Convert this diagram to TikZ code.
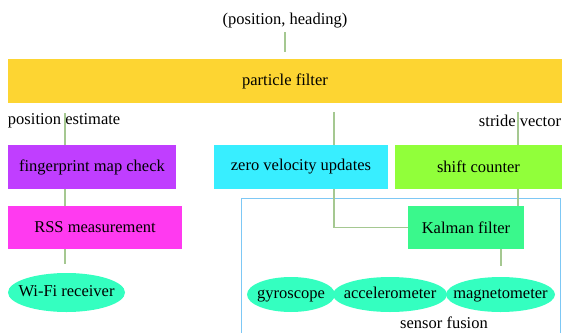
\documentclass[tikz,border=0pt]{standalone}
\usepackage{fontspec}
\setmainfont{Liberation Serif}
\usetikzlibrary{shapes.geometric}

\definecolor{pfyellow}{RGB}{253,213,50}
\definecolor{fpurple}{RGB}{192,62,255}
\definecolor{rssmagenta}{RGB}{255,58,240}
\definecolor{zvcyan}{RGB}{56,238,255}
\definecolor{sclime}{RGB}{145,255,58}
\definecolor{kfgreen}{RGB}{58,248,140}
\definecolor{sensteal}{RGB}{52,255,192}
\definecolor{linkgreen}{RGB}{165,200,145}
\definecolor{framblue}{RGB}{125,200,245}

\begin{document}
\begin{tikzpicture}[x=1pt,y=1pt,
  font=\fontsize{16.5pt}{19pt}\selectfont,
  box/.style={rectangle, inner sep=0pt, outer sep=0pt},
  lbl/.style={inner sep=0pt, outer sep=0pt},
  % tight ellipse: the outline is sized by hand, the text sits on top
  oval/.style n args={3}{ellipse, inner sep=0pt, outer sep=0pt, fill=sensteal,
    minimum width=#1, minimum height=#2,
    label={[lbl, text height=11pt, text depth=3.5pt]center:#3}},
  link/.style={draw=linkgreen, line width=1.1pt}]

\useasboundingbox (0,0) rectangle (562,-332);

% sensor fusion frame (runs past the lower page edge)
\draw[framblue, line width=1pt] (241,-198) rectangle (560,-345);
\node[lbl] (sfl) at (444,-323) {sensor fusion};

% top level
\node[lbl] (ph) at (285,-21) {(position, heading)};
\node[box, fill=pfyellow, minimum width=554pt, minimum height=44pt] (pf) at (285,-81) {particle filter};

\node[lbl, anchor=west] (pe) at (8,-121) {position estimate};
\node[lbl, anchor=east] (sv) at (561,-121) {stride vector};

% second row
\node[box, fill=fpurple, minimum width=168pt, minimum height=44pt] (fmc) at (92,-167) {fingerprint map check};
\node[box, fill=zvcyan, minimum width=174pt, minimum height=44pt] (zvu) at (301,-167) {zero velocity updates};
\node[box, fill=sclime, minimum width=167pt, minimum height=44pt] (sc) at (478.5,-167) {shift counter};

% third row
\node[box, fill=rssmagenta, minimum width=174pt, minimum height=43pt] (rss) at (95,-227.5) {RSS measurement};
\node[box, fill=kfgreen, minimum width=116pt, minimum height=43pt] (kf) at (466,-227.5) {Kalman filter};

% sensors
\node[oval={117pt}{39pt}{Wi-Fi receiver}] (wifi) at (66.5,-292.5) {};
\node[oval={88pt}{35pt}{gyroscope}] (gyro) at (291,-294.5) {};
\node[oval={114pt}{35pt}{accelerometer}] (acc) at (390,-294.5) {};
\node[oval={109pt}{35pt}{magnetometer}] (mag) at (500.5,-294.5) {};

% free ends of the connectors
\coordinate (phend) at (285,-32);
\coordinate (pfin) at (285,-52);
\coordinate (peup) at (65,-113);
\coordinate (zvup) at (334,-112);
\coordinate (svup) at (518,-112);
\coordinate (wifiup) at (65,-264);
\coordinate (magup) at (501,-266);
\coordinate (zvbend) at (334,-227.5);

% connectors
\draw[link] (phend) -- (pfin);
\draw[link] (peup) -- (peup |- fmc.north);
\draw[link] (zvup) -- (zvup |- zvu.north);
\draw[link] (svup) -- (svup |- sc.north);
\draw[link] (peup |- fmc.south) -- (peup |- rss.north);
\draw[link] (peup |- rss.south) -- (wifiup);
\draw[link] (zvup |- zvu.south) -- (zvbend) -- (kf.west);
\draw[link] (svup |- sc.south) -- (svup |- kf.north);
\draw[link] (magup |- kf.south) -- (magup);
\end{tikzpicture}
\end{document}
